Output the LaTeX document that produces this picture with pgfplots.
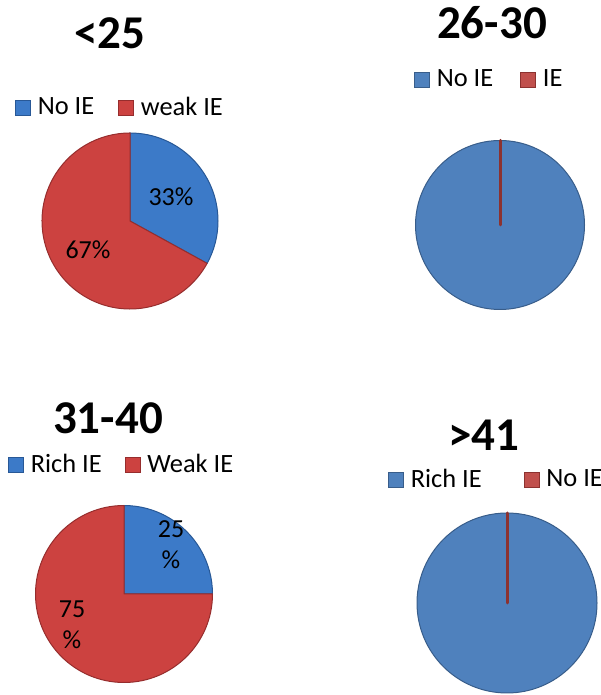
\documentclass[border=0pt]{standalone}
\usepackage{fontspec}
\setmainfont{Carlito}
\usepackage{pgfplots}
\usepackage{pgfplotstable}
\pgfplotsset{compat=1.18}

\definecolor{bevblue}{RGB}{60,122,200}
\definecolor{bevblueD}{RGB}{40,88,150}
\definecolor{bevred}{RGB}{204,66,64}
\definecolor{bevredD}{RGB}{150,45,45}
\definecolor{flatblue}{RGB}{79,129,189}
\definecolor{flatblueD}{RGB}{56,93,138}
\definecolor{flatred}{RGB}{192,80,77}
\definecolor{flatredD}{RGB}{140,50,48}

% data (percent of each pie)
\pgfplotstableread{
slice value
NoIE 33
weakIE 67
}\pieA
\pgfplotstableread{
slice value
NoIE 100
IE 0
}\pieB
\pgfplotstableread{
slice value
RichIE 25
WeakIE 75
}\pieC
\pgfplotstableread{
slice value
RichIE 100
NoIE 0
}\pieD

\pgfplotstablegetelem{0}{value}\of\pieA \pgfmathsetmacro\aMid{90-3.6*\pgfplotsretval}
\pgfplotstablegetelem{0}{value}\of\pieB \pgfmathsetmacro\bMid{90-3.6*\pgfplotsretval}
\pgfplotstablegetelem{0}{value}\of\pieC \pgfmathsetmacro\cMid{90-3.6*\pgfplotsretval}
\pgfplotstablegetelem{0}{value}\of\pieD \pgfmathsetmacro\dMid{90-3.6*\pgfplotsretval}

% r, start, end, fill, draw, line width
\newcommand{\slice}[6]{%
  \filldraw[fill=#4, draw=#5, line width=#6, line join=round]
    (axis cs:0,0) -- (axis cs:{#1*cos(#2)},{#1*sin(#2)})
    arc[start angle=#2, end angle=#3, radius=#1*0.5pt] -- cycle;}

\pgfplotsset{
  piebase/.style={
    hide axis, clip=false, x=0.5pt, y=0.5pt,
    xmin=-100, xmax=100, ymin=-100, ymax=100,
    anchor=center,
    legend columns=2,
    legend cell align=left,
    legend style={draw=none, fill=none, inner sep=0pt, outer sep=0pt,
      font=\fontsize{13.2}{15}\selectfont, anchor=west,
      nodes={inner sep=3.4pt}},
  },
  gap/.style={legend style={/tikz/every even column/.append style={column sep=#1}}},
  sq/.style 2 args={legend image code/.code={
    \draw[fill=#1, draw=#2, line width=0.5pt] (0pt,-3.7pt) rectangle (7.5pt,3.7pt);}},
}
\newcommand{\ttl}{\fontsize{23.5}{25}\bfseries\selectfont}
\newcommand{\lbl}{\fontsize{13}{15.5}\selectfont}

\begin{document}
\begin{tikzpicture}
\useasboundingbox (0,0) rectangle (300pt,347.5pt);

% ---- <25
\begin{axis}[piebase, at={(65pt,237pt)}, gap=8.5pt,
  legend style={at={(axis cs:-115,113)}}]
\addlegendimage{sq={bevblue}{bevblueD}}\addlegendentry{No IE}
\addlegendimage{sq={bevred}{bevredD}}\addlegendentry{weak IE}
\slice{88}{90}{\aMid}{bevblue}{bevblueD}{0.5pt}
\slice{88}{\aMid}{-270}{bevred}{bevredD}{0.5pt}
\node[font=\ttl] at (axis cs:-20,188) {<25};
\node[font=\lbl] at (axis cs:41,24) {33\%};
\node[font=\lbl] at (axis cs:-42,-29) {67\%};
\end{axis}

% ---- 26-30
\begin{axis}[piebase, at={(250pt,235pt)}, gap=10pt,
  legend style={at={(axis cs:-86,145)}}]
\addlegendimage{sq={flatblue}{flatblueD}}\addlegendentry{No IE}
\addlegendimage{sq={flatred}{flatredD}}\addlegendentry{IE}
\slice{84.5}{90}{\bMid}{flatblue}{flatblueD}{0.5pt}
\slice{84.5}{\bMid}{-270}{flatred}{flatredD}{1.5pt}
\node[font=\ttl] at (axis cs:-8,202) {26-30};
\end{axis}

% ---- 31-40
\begin{axis}[piebase, at={(62pt,50.5pt)}, gap=8pt,
  legend style={at={(axis cs:-116,129)}}]
\addlegendimage{sq={bevblue}{bevblueD}}\addlegendentry{Rich IE}
\addlegendimage{sq={bevred}{bevredD}}\addlegendentry{Weak IE}
\slice{88.5}{90}{\cMid}{bevblue}{bevblueD}{0.5pt}
\slice{88.5}{\cMid}{-270}{bevred}{bevredD}{0.5pt}
\node[font=\ttl] at (axis cs:-16,176) {31-40};
\node[font=\lbl, align=center] at (axis cs:47,49) {25\\\%};
\node[font=\lbl, align=center] at (axis cs:-52,-31) {75\\\%};
\end{axis}

% ---- >41
\begin{axis}[piebase, at={(253.5pt,46pt)}, gap=17.5pt,
  legend style={at={(axis cs:-119,123)}}]
\addlegendimage{sq={flatblue}{flatblueD}}\addlegendentry{Rich IE}
\addlegendimage{sq={flatred}{flatredD}}\addlegendentry{No IE}
\slice{90}{90}{\dMid}{flatblue}{flatblueD}{0.5pt}
\slice{90}{\dMid}{-270}{flatred}{flatredD}{1.5pt}
\node[font=\ttl] at (axis cs:-23,168) {>41};
\end{axis}
\end{tikzpicture}
\end{document}
